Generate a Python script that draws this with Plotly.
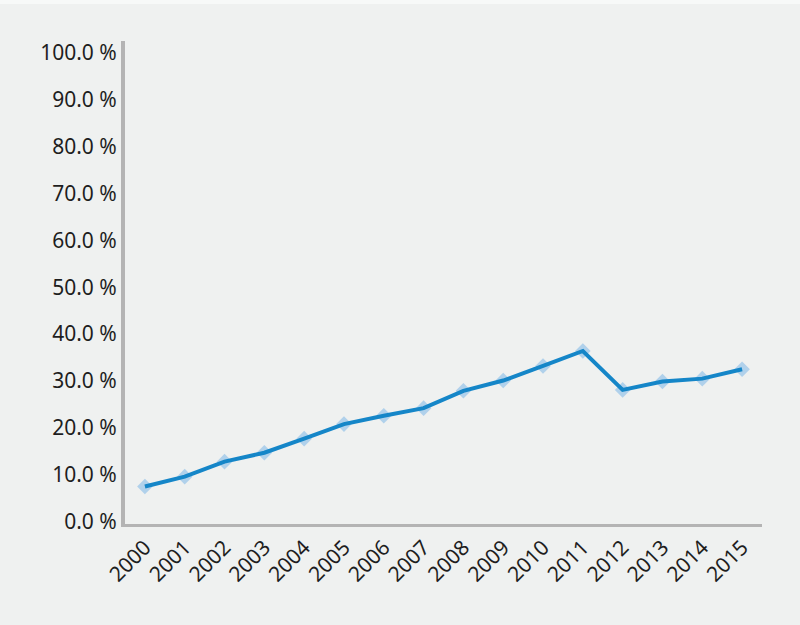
import plotly.graph_objects as go

years = [str(y) for y in range(2000, 2016)]
values = [7.5, 9.6, 12.8, 14.7, 17.7, 20.8, 22.6, 24.2, 27.9, 30.1, 33.2, 36.4, 28.1, 29.9, 30.5, 32.5]
y_ticks = [0, 10, 20, 30, 40, 50, 60, 70, 80, 90, 100]
y_tick_text = [f"{v:.1f} %" for v in y_ticks]

bg = "#EFF1F0"
fig = go.Figure()
fig.add_trace(go.Scatter(x=years, y=values, mode="markers",
                         marker=dict(symbol="diamond", size=12, color="rgba(150,195,232,0.7)"),
                         hoverinfo="skip", showlegend=False))
fig.add_trace(go.Scatter(x=years, y=values, mode="lines",
                         line=dict(color="#1586C8", width=4), showlegend=False))

plot_h = 625 - 41 - 101
fig.add_shape(type="rect", xref="paper", yref="paper", x0=-1, x1=2,
              y0=1 + 37 / plot_h, y1=1 + 42 / plot_h, fillcolor="#F7F9F8",
              line=dict(width=0), layer="below")

fig.update_layout(
    width=800, height=625,
    margin=dict(l=125, r=38, t=41, b=101),
    paper_bgcolor=bg, plot_bgcolor=bg,
    font=dict(family="Noto Sans", size=21, color="#1E1E1E"),
)
fig.update_xaxes(type="category", range=[-0.5, 15.5], showgrid=False, zeroline=False,
                 showline=True, linecolor="#B4B4B4", linewidth=3, ticks="",
                 tickangle=-45, tickfont=dict(size=21))
fig.update_yaxes(range=[-0.5, 102.5], tickvals=y_ticks, ticktext=y_tick_text,
                 showgrid=False, zeroline=False, showline=True, linecolor="#B4B4B4",
                 linewidth=4, ticks="", ticklabelstandoff=0, tickfont=dict(size=21))

fig.write_html("out.html", config={"displayModeBar": False},
               post_script="document.body.style.margin='0';document.body.style.padding='0';")
